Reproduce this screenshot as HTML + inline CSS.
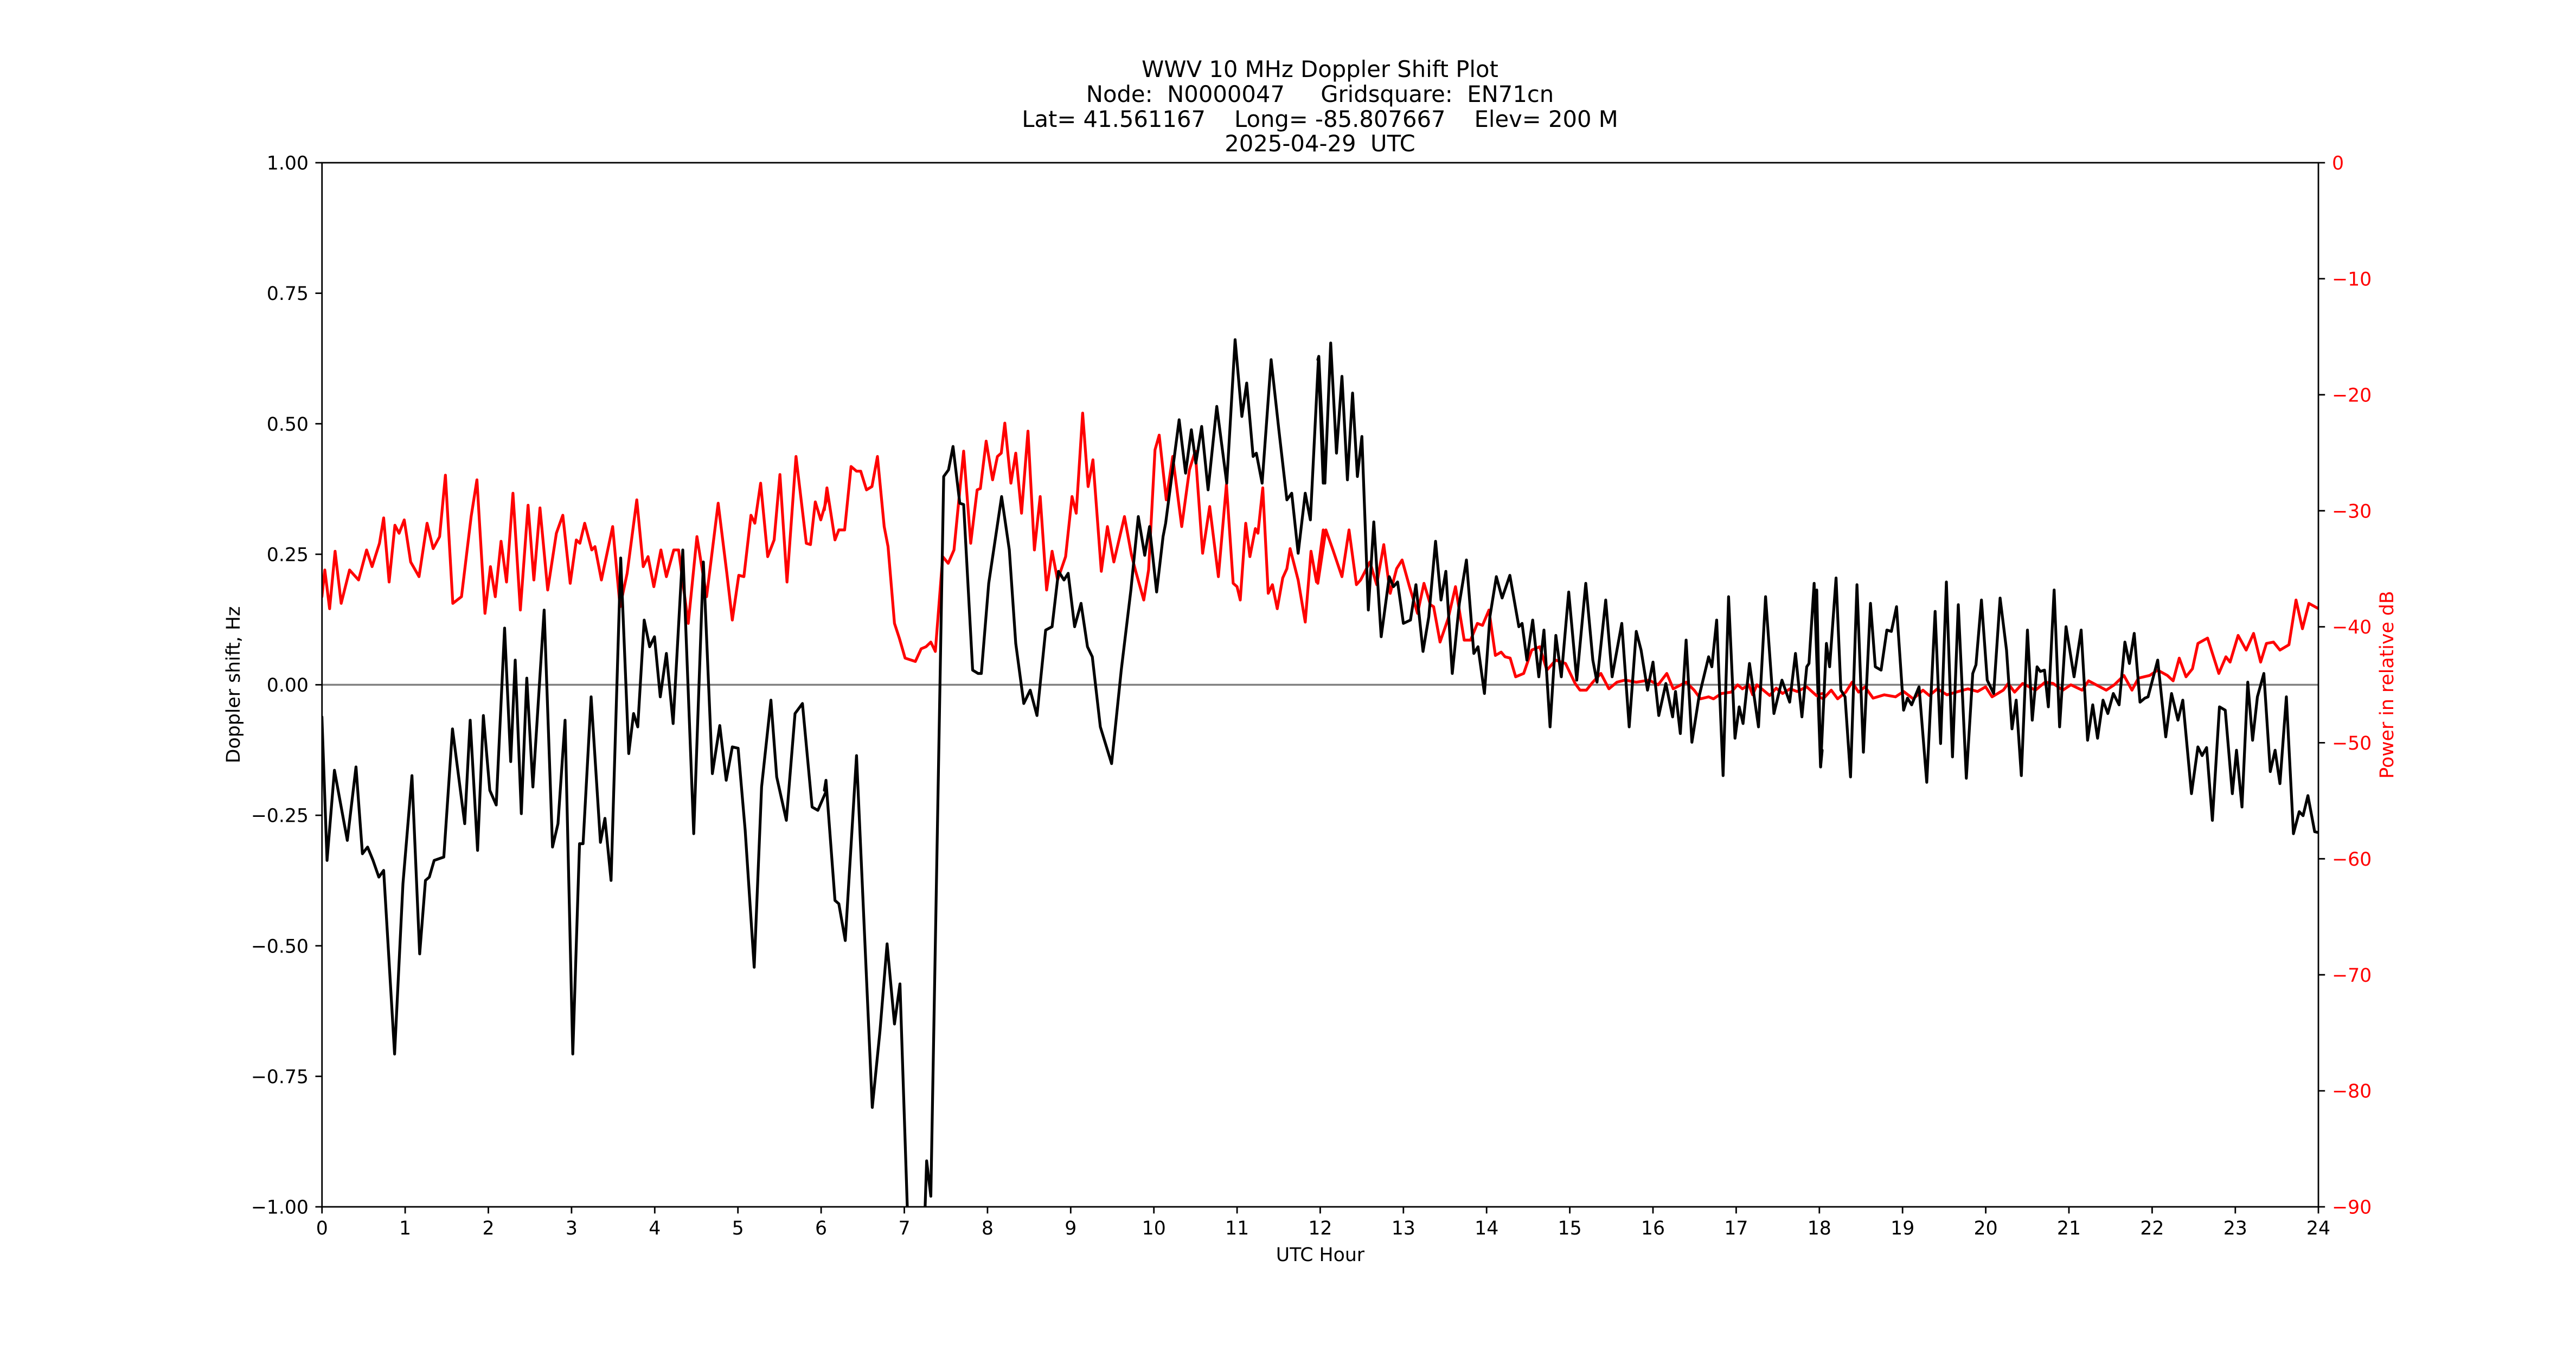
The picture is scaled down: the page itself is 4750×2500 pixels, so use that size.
<!DOCTYPE html>
<html><head><meta charset="utf-8"><style>html,body{margin:0;padding:0;background:#fff}svg{display:block}</style></head>
<body>
<svg xmlns="http://www.w3.org/2000/svg" width="4750" height="2500" viewBox="0 0 4750 2500" font-family="DejaVu Sans, Liberation Sans, sans-serif">
<rect width="4750" height="2500" fill="#fff"/>
<defs><clipPath id="ax"><rect x="593.75" y="300" width="3681.25" height="1925"/></clipPath></defs>
<g font-size="41.7" text-anchor="middle" fill="#000">
<text x="2434" y="142">WWV 10 MHz Doppler Shift Plot</text>
<text x="2434" y="188" xml:space="preserve">Node:  N0000047     Gridsquare:  EN71cn</text>
<text x="2434" y="234" xml:space="preserve">Lat= 41.561167    Long= -85.807667    Elev= 200 M</text>
<text x="2434" y="279" xml:space="preserve">2025-04-29  UTC</text>
</g>
<line x1="593.75" y1="1262.5" x2="4275" y2="1262.5" stroke="#808080" stroke-width="3.5"/>
<g clip-path="url(#ax)" fill="none" stroke-linejoin="round" stroke-linecap="round">
<g transform="translate(590,300) scale(0.5931,1.2309)">
<polyline vector-effect="non-scaling-stroke" stroke="#ff0000" stroke-width="5.2" points="6,650 15,610 30,668 47,582 66,660 92,610 120,625 145,580 162,605 185,570 198,532 215,628 233,543 246,555 262,535 282,598 308,620 333,540 352,578 372,560 390,468 413,660 440,650 470,530 488,475 513,675 530,605 545,650 563,567 580,628 600,495 623,670 647,513 665,625 684,517 708,640 735,555 755,528 778,630 797,565 808,570 823,540 845,580 855,575 875,625 910,545 933,665 955,615 985,505 1005,605 1020,590 1038,635 1060,580 1077,620 1100,580 1115,580 1145,690 1172,560 1202,650 1238,510 1265,615 1282,685 1302,618 1318,620 1340,528 1352,540 1370,480 1392,590 1412,565 1430,467 1452,628 1480,440 1512,570 1525,572 1540,508 1557,535 1575,505"/>
<polyline vector-effect="non-scaling-stroke" stroke="#000" stroke-width="5.2" points="6,830 22,1045 45,910 85,1015 112,905 132,1035 148,1025 165,1045 183,1070 198,1060 232,1335 258,1080 286,918 310,1185 328,1075 340,1070 355,1045 385,1040 412,848 450,990 467,835 490,1030 508,828 528,940 548,962 574,697 593,897 607,745 626,975 643,772 662,935 697,670 723,1025 740,990 762,835 786,1335 807,1020 818,1020 843,800 872,1018 886,982 905,1075 935,592 960,885 975,825 988,845 1008,685 1025,725 1040,710 1058,800 1077,735 1098,840 1128,580 1162,1005 1192,598 1220,915 1243,843 1263,925 1282,875 1300,877 1322,1000 1350,1205 1373,935 1402,805 1420,920 1450,985 1477,825 1500,810 1530,965 1548,970 1575,940"/>
</g>
<g transform="translate(1510,300) scale(0.5931,1.2309)">
<polyline vector-effect="non-scaling-stroke" stroke="#ff0000" stroke-width="5.2" points="17,520 25,487 50,565 62,550 80,550 100,455 117,462 130,462 148,490 165,485 182,440 203,545 215,575 235,690 250,712 268,742 300,747 318,728 333,725 348,718 362,732 385,590 402,600 420,580 450,432 472,570 492,490 502,488 520,417 540,475 555,440 567,435 578,390 597,480 612,435 630,525 650,402 670,580 688,500 708,640 725,582 742,625 767,590 787,500 800,525 820,375 837,485 852,445 878,612 897,545 917,598 950,530 972,588 985,612 1010,655 1025,610 1045,430 1058,408 1080,505 1100,440 1128,545 1152,460 1170,432 1193,585 1215,515 1242,620 1267,482 1288,630 1300,635 1310,655 1327,540 1340,590 1357,548 1365,555 1380,487 1397,645 1410,632 1425,668 1442,622 1455,608 1465,578 1490,625 1512,688 1530,582 1547,628 1568,550"/>
<polyline vector-effect="non-scaling-stroke" stroke="#000" stroke-width="5.2" points="17,940 22,925 50,1105 62,1110 82,1165 117,888 166,1415 190,1300 212,1170 235,1290 252,1230 280,1640 300,1720 325,1640 335,1495 348,1548 388,470 403,460 417,425 438,510 450,512 478,760 495,765 505,765 528,630 568,500 592,580 612,720 637,810 657,790 678,828 705,700 725,695 745,612 762,625 775,615 795,695 815,660 835,725 850,740 875,845 910,900 940,760 970,640 993,530 1013,588 1028,545 1050,643 1070,560 1078,540 1120,385 1140,465 1158,400 1172,450 1190,395 1210,490 1237,365 1268,480 1294,265 1315,380 1330,330 1350,440 1360,435 1378,480 1406,295 1430,400 1455,505 1470,495 1490,585 1512,495 1528,535 1553,295 1568,480"/>
</g>
<g transform="translate(2430,300) scale(0.5931,1.2309)">
<polyline vector-effect="non-scaling-stroke" stroke="#ff0000" stroke-width="5.2" points="0,630 25,550 47,580 75,620 97,550 120,632 133,625 162,598 183,632 205,572 225,645 245,608 262,595 285,635 310,675 330,630 350,662 360,665 380,718 405,683 428,635 455,715 475,715 496,690 512,693 532,670 552,738 570,733 582,740 598,742 615,770 640,765 665,730 690,725 712,760 740,745 770,750 800,780 815,790 835,790 855,778 880,765 905,788 930,778 955,775 990,778 1030,775 1058,782 1085,765 1105,788 1145,778 1170,790 1190,803 1215,800 1230,803 1255,795 1285,793 1305,782 1320,788 1340,782 1352,797 1365,782 1405,798 1425,787 1445,795 1468,788 1490,792 1520,785 1550,798 1568,795"/>
<polyline vector-effect="non-scaling-stroke" stroke="#000" stroke-width="5.2" points="0,295 3,290 22,480 40,270 58,435 75,320 92,475 108,345 123,470 137,410 157,670 174,538 197,710 222,620 235,635 248,628 266,690 288,685 305,632 327,732 345,680 366,567 383,655 398,612 418,765 440,660 462,595 485,735 498,725 518,795 535,680 555,620 573,652 597,618 625,695 635,690 650,745 668,685 687,770 703,700 722,845 740,708 757,770 780,643 805,775 833,630 855,745 868,778 895,655 915,770 945,690 968,845 990,702 1005,730 1025,790 1042,748 1060,828 1082,780 1103,830 1112,792 1127,855 1145,715 1163,868 1185,800 1215,740 1225,755 1240,685 1260,918 1277,650 1297,862 1310,815 1322,840 1342,750 1370,845 1392,650 1418,825 1443,775 1467,808 1485,735 1505,830 1520,755 1527,750 1543,630 1563,905 1568,880"/>
</g>
<g transform="translate(3350,300) scale(0.5931,1.2309)">
<polyline vector-effect="non-scaling-stroke" stroke="#ff0000" stroke-width="5.2" points="0,798 20,803 45,790 65,803 90,793 110,778 130,793 150,785 175,802 210,797 245,800 270,792 300,803 330,790 350,798 375,788 405,797 440,792 470,788 500,792 525,785 545,800 580,790 595,780 615,793 640,780 680,790 710,778 735,780 765,790 790,782 825,790 845,776 900,790 925,782 955,768 980,790 1000,772 1035,768 1060,760 1090,768 1108,776 1127,742 1148,770 1168,758 1185,720 1215,712 1250,765 1272,740 1285,748 1310,708 1335,730 1358,705 1380,748 1398,720 1420,718 1440,730 1468,722 1490,655 1510,698 1530,660 1560,668 1575,668"/>
<polyline vector-effect="non-scaling-stroke" stroke="#000" stroke-width="5.2" points="0,640 12,905 30,720 40,755 60,622 75,790 88,800 105,920 125,632 145,883 167,660 182,755 200,760 218,700 232,702 248,665 270,820 282,802 295,812 318,785 342,928 368,672 385,870 403,628 422,890 440,662 465,922 485,765 495,752 512,655 530,775 550,795 570,652 590,730 607,848 620,805 636,918 655,700 670,835 685,755 695,762 708,760 720,815 738,640 755,845 775,695 800,770 822,700 842,865 858,812 873,862 890,805 905,825 922,795 940,812 958,718 972,750 987,705 1005,808 1020,802 1030,800 1060,745 1085,860 1103,795 1123,835 1138,805 1165,945 1185,875 1198,888 1212,876 1230,985 1252,815 1270,820 1292,945 1305,880 1322,965 1340,778 1355,865 1370,800 1390,765 1410,912 1425,880 1440,930 1460,800 1482,1005 1500,972 1512,978 1527,948 1548,1002 1575,1005"/>
</g>
</g>
<rect x="593.75" y="300" width="3681.25" height="1925" fill="none" stroke="#000" stroke-width="2.8"/>
<g stroke="#000" stroke-width="2.8">
<path d="M581.5,300H593.75M581.5,540.6H593.75M581.5,781.25H593.75M581.5,1021.9H593.75M581.5,1262.5H593.75M581.5,1503.1H593.75M581.5,1743.75H593.75M581.5,1984.4H593.75M581.5,2225H593.75"/>
<path d="M4275,300H4287.2M4275,513.9H4287.2M4275,727.8H4287.2M4275,941.7H4287.2M4275,1155.6H4287.2M4275,1369.4H4287.2M4275,1583.3H4287.2M4275,1797.2H4287.2M4275,2011.1H4287.2M4275,2225H4287.2"/>
<path d="M593.75,2225v12.2M747.1,2225v12.2M900.5,2225v12.2M1053.9,2225v12.2M1207.3,2225v12.2M1360.7,2225v12.2M1514.1,2225v12.2M1667.5,2225v12.2M1820.9,2225v12.2M1974.3,2225v12.2M2127.7,2225v12.2M2281.1,2225v12.2M2434.4,2225v12.2M2587.8,2225v12.2M2741.2,2225v12.2M2894.6,2225v12.2M3048,2225v12.2M3201.4,2225v12.2M3354.8,2225v12.2M3508.2,2225v12.2M3661.6,2225v12.2M3815,2225v12.2M3968.4,2225v12.2M4121.8,2225v12.2M4275,2225v12.2"/>
</g>
<g font-size="34.7" text-anchor="end" fill="#000">
<text x="569" y="312.6">1.00</text><text x="569" y="553.2">0.75</text><text x="569" y="793.9">0.50</text><text x="569" y="1034.5">0.25</text><text x="569" y="1275.1">0.00</text><text x="569" y="1515.7">−0.25</text><text x="569" y="1756.4">−0.50</text><text x="569" y="1997">−0.75</text><text x="569" y="2237.6">−1.00</text>
</g>
<g font-size="34.7" text-anchor="start" fill="#ff0000">
<text x="4300" y="312.6">0</text><text x="4300" y="526.5">−10</text><text x="4300" y="740.4">−20</text><text x="4300" y="954.3">−30</text><text x="4300" y="1168.2">−40</text><text x="4300" y="1382">−50</text><text x="4300" y="1595.9">−60</text><text x="4300" y="1809.8">−70</text><text x="4300" y="2023.7">−80</text><text x="4300" y="2237.6">−90</text>
</g>
<g font-size="34.7" text-anchor="middle" fill="#000">
<text x="593.75" y="2276">0</text><text x="747.1" y="2276">1</text><text x="900.5" y="2276">2</text><text x="1053.9" y="2276">3</text><text x="1207.3" y="2276">4</text><text x="1360.7" y="2276">5</text><text x="1514.1" y="2276">6</text><text x="1667.5" y="2276">7</text><text x="1820.9" y="2276">8</text><text x="1974.3" y="2276">9</text><text x="2127.7" y="2276">10</text><text x="2281.1" y="2276">11</text><text x="2434.4" y="2276">12</text><text x="2587.8" y="2276">13</text><text x="2741.2" y="2276">14</text><text x="2894.6" y="2276">15</text><text x="3048" y="2276">16</text><text x="3201.4" y="2276">17</text><text x="3354.8" y="2276">18</text><text x="3508.2" y="2276">19</text><text x="3661.6" y="2276">20</text><text x="3815" y="2276">21</text><text x="3968.4" y="2276">22</text><text x="4121.8" y="2276">23</text><text x="4275" y="2276">24</text>
<text x="2434.4" y="2325">UTC Hour</text>
<text transform="translate(442,1262.5) rotate(-90)" x="0" y="0">Doppler shift, Hz</text>
<text transform="translate(4413,1262.5) rotate(-90)" x="0" y="0" fill="#ff0000">Power in relative dB</text>
</g>
</svg>
</body></html>
